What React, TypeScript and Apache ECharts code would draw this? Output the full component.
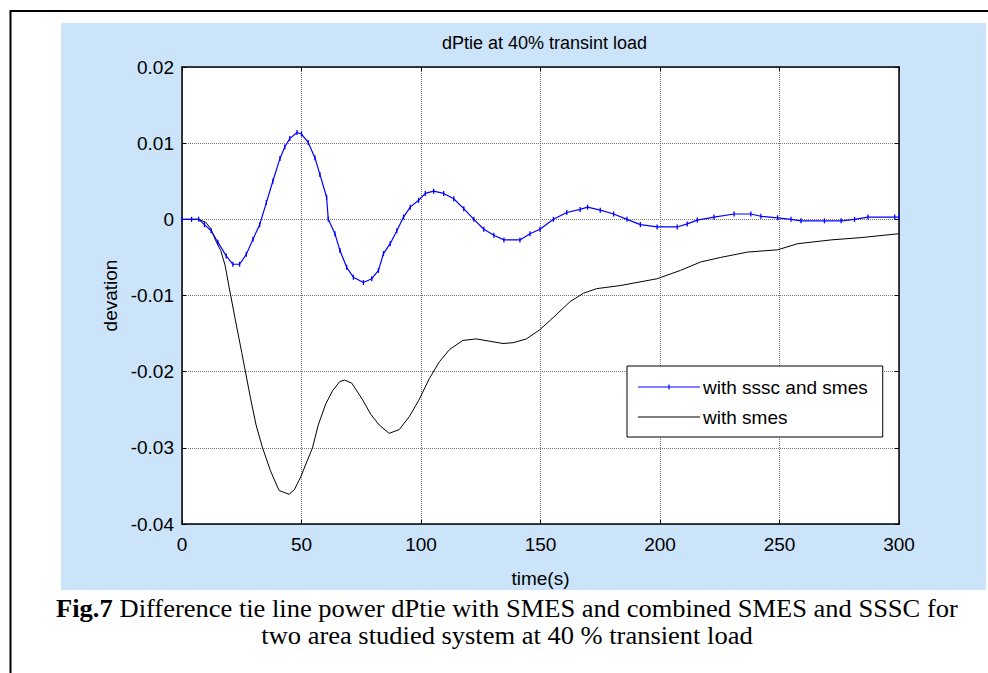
import React, { useEffect, useRef } from "react";
import * as echarts from "echarts";

// ---- data ----
const chartTitle = "dPtie at 40% transint load";
const xName = "time(s)";
const yName = "devation";
const seriesNames = ["with sssc and smes", "with smes"];
const xTicks = [0, 50, 100, 150, 200, 250, 300];
const yTicks = [-0.04, -0.03, -0.02, -0.01, 0, 0.01, 0.02];

// with sssc and smes (blue)
const ssscT = [0, 4, 7, 9.4, 12.2, 15, 18.5, 21.3, 24.1, 26.9, 29.7, 32.5, 35.3, 38, 41, 43, 45.1, 48.1, 50, 52.8, 55.6, 57.7, 60.5, 61.2, 64, 66.1, 68.9, 71.7, 75.9, 79.4, 82.2, 84.3, 87.1, 89.9, 92.7, 95.5, 99, 101.8, 105.3, 109.5, 113.7, 117.9, 122.1, 126.3, 130.5, 134.7, 141.4, 145.6, 149.8, 155.4, 161, 166.6, 169.7, 175, 180.6, 186.2, 191.8, 198.8, 207.2, 211.4, 215.6, 222.6, 231, 238, 242.2, 249.2, 254.8, 259, 268.8, 275.8, 281.4, 287, 298.2, 300];
const ssscV = [0, 0, 0, -0.0007, -0.0015, -0.003, -0.0048, -0.0059, -0.0059, -0.0046, -0.0026, -0.0007, 0.0022, 0.005, 0.008, 0.0095, 0.0106, 0.0114, 0.0112, 0.0101, 0.0081, 0.0059, 0.0029, 0.0, -0.0019, -0.0041, -0.0063, -0.0076, -0.0083, -0.0078, -0.0067, -0.0045, -0.0032, -0.0015, 0.0003, 0.0016, 0.0025, 0.0034, 0.0037, 0.0034, 0.0027, 0.0014, 0.0, -0.0013, -0.0021, -0.0027, -0.0027, -0.0019, -0.0013, 0, 0.0009, 0.0013, 0.0016, 0.0012, 0.0007, 0, -0.0007, -0.001, -0.001, -0.0006, -0.0001, 0.0003, 0.0007, 0.0007, 0.0004, 0.0002, 0, -0.0002, -0.0002, -0.0002, 0, 0.0003, 0.0003, 0.0003];

// with smes (black)
const smesT = [0, 7, 10, 12, 14.1, 16.2, 18, 19.7, 22.2, 25, 28.8, 31, 33.6, 37, 40.6, 44.8, 47, 49.7, 52, 54.6, 57, 60.2, 63, 66, 68, 71, 75.4, 79, 82.5, 86.7, 90.9, 95.1, 99, 103.5, 107.7, 111.9, 117.5, 123.1, 128.7, 134.3, 138.5, 144.1, 149.7, 155.3, 162.4, 168, 173.5, 183.3, 198.8, 208.6, 217, 225.4, 236.6, 249.2, 257.6, 271.6, 284.1, 299.5, 300];
const smesV = [0, 0, -0.0004, -0.0012, -0.0028, -0.0041, -0.006, -0.0089, -0.013, -0.0175, -0.0237, -0.027, -0.0299, -0.033, -0.0356, -0.0361, -0.0355, -0.0338, -0.032, -0.03, -0.027, -0.0242, -0.0225, -0.0213, -0.0211, -0.0215, -0.0236, -0.0256, -0.027, -0.0281, -0.0276, -0.0259, -0.0238, -0.0209, -0.0187, -0.0171, -0.0159, -0.0157, -0.016, -0.0163, -0.0162, -0.0157, -0.0145, -0.0129, -0.0108, -0.0097, -0.0091, -0.0087, -0.0078, -0.0067, -0.0056, -0.005, -0.0043, -0.004, -0.0032, -0.0027, -0.0024, -0.0019, -0.0019];

const captionBold = "Fig.7";
const captionLine1 = " Difference tie line power dPtie with SMES and combined SMES and SSSC for";
const captionLine2 = "two area studied system at 40 % transient load";

const SANS = "'Liberation Sans', Arial, sans-serif";
const SERIF = "'Liberation Serif', 'Times New Roman', serif";

const fmtY = (v: number) => String(Number(v.toFixed(2)));

const iconBlue =
  "path://M0,0L0.05,0L0,0.05Z M62,14L61.95,14L62,13.95Z M0,6.5L62,6.5L62,7.5L0,7.5Z M30.4,4.5L31.6,4.5L31.6,9.5L30.4,9.5Z";
const iconBlack =
  "path://M0,0L0.05,0L0,0.05Z M62,14L61.95,14L62,13.95Z M0,6.5L62,6.5L62,7.5L0,7.5Z";

export default function App() {
  const ref = useRef<HTMLDivElement>(null);
  useEffect(() => {
    if (!ref.current) return;
    const chart = echarts.init(ref.current, undefined, { renderer: "svg" });
    const gridLeft = 182;
    const gridTop = 67;
    const gridW = 717;
    const gridH = 457;
    const axisCommon = {
      type: "value" as const,
      axisLine: { show: true, onZero: false, lineStyle: { color: "#000", width: 1.5 } },
      axisTick: { show: true, inside: true, length: 4, lineStyle: { color: "#000", width: 1 } },
    };
    chart.setOption({
      animation: false,
      backgroundColor: "#ffffff",
      title: {
        text: chartTitle,
        left: gridLeft + gridW / 2 - 1,
        top: 29,
        textAlign: "center",
        textStyle: { fontFamily: SANS, fontSize: 18, fontWeight: "normal", color: "#000" },
      },
      grid: {
        left: gridLeft,
        top: gridTop,
        width: gridW,
        height: gridH,
        show: true,
        backgroundColor: "#ffffff",
        borderWidth: 0,
        containLabel: false,
      },
      legend: {
        orient: "vertical",
        left: 627,
        top: 366,
        padding: [11, 15, 10, 11],
        backgroundColor: "#ffffff",
        borderColor: "#000",
        borderWidth: 1,
        borderRadius: 0,
        itemWidth: 62,
        itemHeight: 14,
        itemGap: 10,
        itemStyle: { borderWidth: 0 },
        textStyle: { fontFamily: SANS, fontSize: 19, color: "#000", lineHeight: 20, padding: [0, 0, 0, -2] },
        data: [
          { name: seriesNames[0], icon: iconBlue },
          { name: seriesNames[1], icon: iconBlack },
        ],
      },
      xAxis: [
        {
          ...axisCommon,
          position: "bottom",
          min: xTicks[0],
          max: xTicks[xTicks.length - 1],
          interval: 50,
          name: xName,
          nameLocation: "middle",
          nameGap: 45,
          nameTextStyle: { fontFamily: SANS, fontSize: 19, color: "#000" },
          axisLabel: { fontFamily: SANS, fontSize: 19, color: "#000", margin: 11 },
          splitLine: { show: true, lineStyle: { color: "#777", type: "dotted", width: 1 } },
        },
        {
          ...axisCommon,
          position: "top",
          min: xTicks[0],
          max: xTicks[xTicks.length - 1],
          interval: 50,
          axisLabel: { show: false },
          splitLine: { show: false },
        },
      ],
      yAxis: [
        {
          ...axisCommon,
          position: "left",
          min: yTicks[0],
          max: yTicks[yTicks.length - 1],
          interval: 0.01,
          name: yName,
          nameLocation: "middle",
          nameGap: 61,
          nameTextStyle: { fontFamily: SANS, fontSize: 19, color: "#000" },
          axisLabel: { fontFamily: SANS, fontSize: 19, color: "#000", margin: 8, formatter: fmtY },
          splitLine: { show: true, lineStyle: { color: "#777", type: "dotted", width: 1 } },
        },
        {
          ...axisCommon,
          position: "right",
          min: yTicks[0],
          max: yTicks[yTicks.length - 1],
          interval: 0.01,
          axisLabel: { show: false },
          splitLine: { show: false },
        },
      ],
      series: [
        {
          name: seriesNames[0],
          type: "line",
          xAxisIndex: 0,
          yAxisIndex: 0,
          data: ssscT.map((t, i) => [t, ssscV[i]]),
          showSymbol: true,
          symbol: "rect",
          symbolSize: [1.3, 5],
          itemStyle: { color: "#0000ff", borderWidth: 0 },
          lineStyle: { color: "#0000ff", width: 1.2 },
          z: 3,
        },
        {
          name: seriesNames[1],
          type: "line",
          xAxisIndex: 0,
          yAxisIndex: 0,
          data: smesT.map((t, i) => [t, smesV[i]]),
          showSymbol: false,
          symbol: "none",
          itemStyle: { color: "#000000", borderWidth: 0 },
          lineStyle: { color: "#000000", width: 1 },
          z: 2,
        },
      ],
      graphic: [
        {
          type: "rect",
          z: -10,
          silent: true,
          shape: { x: 61, y: 23, width: 925, height: 567 },
          style: { fill: "#cce4f9" },
        },
        {
          type: "polyline",
          z: -5,
          silent: true,
          shape: { points: [[10.5, 673], [10.5, 11], [988, 11]] },
          style: { stroke: "#000", lineWidth: 2, fill: "none" },
        },
        {
          type: "text",
          x: 507,
          y: 609,
          scaleX: 1.06,
          style: {
            text: "{b|" + captionBold + "}" + captionLine1,
            font: "25px " + SERIF,
            fill: "#000",
            align: "center",
            verticalAlign: "middle",
            rich: {
              b: { fontFamily: SERIF, fontSize: 25, fontWeight: "bold", fill: "#000" },
            },
          },
        },
        {
          type: "text",
          x: 507,
          y: 636,
          scaleX: 1.06,
          style: {
            text: captionLine2,
            font: "25px " + SERIF,
            fill: "#000",
            align: "center",
            verticalAlign: "middle",
          },
        },
      ],
    });
    return () => chart.dispose();
  }, []);
  return (
    <div
      ref={ref}
      style={{ position: "fixed", left: 0, top: 0, width: 988, height: 673 }}
    />
  );
}
